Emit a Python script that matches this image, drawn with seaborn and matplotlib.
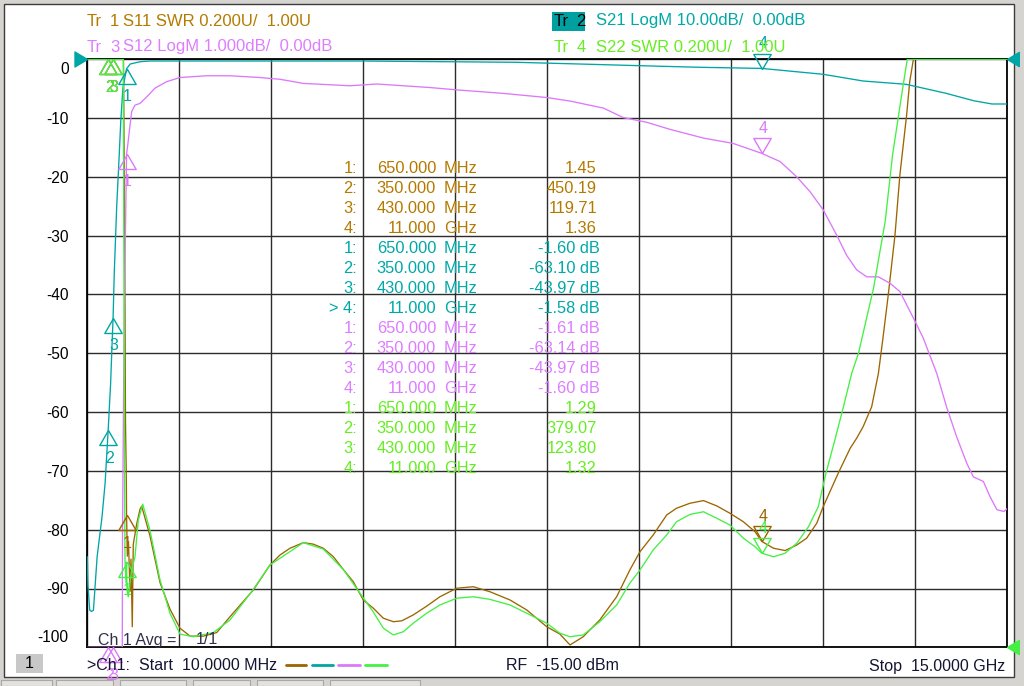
import numpy as np
import pandas as pd
import matplotlib
matplotlib.use("Agg")
import matplotlib.pyplot as plt
import seaborn as sns
from matplotlib.patches import Rectangle
from matplotlib.lines import Line2D
from matplotlib.transforms import ScaledTranslation

# ---- trace data (frequency in GHz) ----
# Tr2 S21 LogM, dB
s21_f = [0.01, 0.02, 0.05, 0.08, 0.11, 0.17, 0.25, 0.30, 0.35, 0.39, 0.41, 0.43,
         0.45, 0.49, 0.53, 0.555, 0.59, 0.65, 0.71, 0.87, 1.03, 4.5, 7.0, 8.2,
         9.2, 10.0, 11.0, 12.0, 12.65, 13.35, 14.0, 14.45, 14.75, 15.0]
s21_db = [-84.6, -89.4, -93.7, -93.9, -93.7, -84.6, -77.8, -72.1, -63.1, -55.1, -49.4, -44.0,
          -36.1, -24.8, -16.3, -10.6, -4.9, -1.6, -0.8, -0.41, -0.29, -0.29, -0.51, -0.85,
          -1.14, -1.36, -1.55, -2.55, -3.69, -4.25, -5.78, -7.04, -7.6, -7.6]

# Tr3 S12 LogM, dB
s12_f = [0.01, 0.35, 0.43, 0.58, 0.584, 0.60, 0.616, 0.632, 0.65, 0.67, 0.694, 0.733,
         0.787, 0.869, 0.978, 1.113, 1.304, 1.52, 1.955, 2.335, 2.824, 3.15, 3.53, 4.29,
         4.725, 5.59, 6.03, 6.79, 7.495, 7.875, 8.42, 8.74, 9.12, 9.50, 10.05, 10.53,
         11.0, 11.30, 11.57, 11.785, 12.0, 12.22, 12.38, 12.545, 12.71, 12.90, 13.09,
         13.25, 13.47, 13.63, 13.85, 14.01, 14.175, 14.34, 14.445, 14.61, 14.72, 14.83,
         14.945, 15.0]
s12_db = [-90.0, -63.14, -43.97, -10.5, -8.09, -5.79, -4.09, -2.90, -1.61, -1.45, -1.23, -0.89,
          -0.78, -0.75, -0.64, -0.49, -0.38, -0.31, -0.28, -0.28, -0.31, -0.34, -0.41, -0.45,
          -0.42, -0.48, -0.52, -0.58, -0.65, -0.71, -0.83, -0.99, -1.07, -1.19, -1.34, -1.43,
          -1.60, -1.74, -2.00, -2.25, -2.56, -2.99, -3.33, -3.58, -3.70, -3.70, -3.81,
          -3.95, -4.40, -4.74, -5.34, -5.91, -6.42, -6.87, -7.10, -7.18, -7.44, -7.66,
          -7.69, -7.64]

# Tr1 S11 SWR
s11_f = [0.01, 0.35, 0.43, 0.60, 0.613, 0.624, 0.632, 0.645, 0.65, 0.662, 0.681, 0.706,
         0.722, 0.743, 0.759, 0.815, 0.869, 0.896, 1.03, 1.195, 1.357, 1.52, 1.685, 1.90,
         2.118, 2.335, 2.715, 2.987, 3.15, 3.313, 3.53, 3.69, 3.855, 4.02, 4.18, 4.344,
         4.507, 4.67, 4.833, 4.996, 5.133, 5.32, 5.54, 5.756, 6.03, 6.30, 6.57, 6.897,
         7.17, 7.495, 7.71, 7.875, 8.09, 8.36, 8.635, 8.85, 9.015, 9.23, 9.45, 9.61,
         9.83, 10.05, 10.265, 10.48, 10.70, 10.89, 11.0, 11.19, 11.38, 11.57, 11.73,
         11.895, 12.0, 12.245, 12.44, 12.545, 12.65, 12.79, 12.90, 12.97, 13.06, 13.17,
         13.25, 13.36, 13.41, 13.47, 14.0, 15.0]
s11_swr = [400.0, 450.19, 119.71, 3.0, 2.59, 2.18, 1.77, 1.59, 1.45, 1.31, 1.36, 1.19,
           1.30, 1.07, 1.35, 1.42, 1.47, 1.48, 1.38, 1.22, 1.13, 1.065, 1.038, 1.038,
           1.050, 1.104, 1.195, 1.28, 1.314, 1.337, 1.356, 1.351, 1.337, 1.308, 1.265, 1.223,
           1.161, 1.133, 1.099, 1.087, 1.090, 1.110, 1.140, 1.172, 1.201, 1.206, 1.189, 1.161,
           1.127, 1.070, 1.045, 1.008, 1.036, 1.093, 1.172, 1.263, 1.325, 1.382, 1.45, 1.473,
           1.490, 1.499, 1.481, 1.456, 1.427, 1.393, 1.36, 1.337, 1.329, 1.348, 1.371,
           1.422, 1.478, 1.592, 1.677, 1.711, 1.750, 1.818, 1.932, 2.045, 2.198, 2.402,
           2.607, 2.811, 2.924, 3.0, 4.0, 5.0]

# Tr4 S22 SWR
s22_f = [0.01, 0.35, 0.43, 0.597, 0.613, 0.624, 0.641, 0.65, 0.657, 0.678, 0.706, 0.733,
         0.787, 0.841, 0.913, 1.03, 1.195, 1.357, 1.52, 1.737, 2.063, 2.335, 2.715, 2.987,
         3.53, 3.855, 4.18, 4.507, 4.67, 4.833, 4.996, 5.16, 5.32, 5.54, 5.756, 6.03,
         6.30, 6.57, 6.897, 7.17, 7.495, 7.71, 7.875, 8.09, 8.36, 8.635, 8.85, 9.015,
         9.23, 9.45, 9.61, 9.83, 10.05, 10.265, 10.48, 10.70, 10.89, 11.0, 11.19, 11.38,
         11.57, 11.76, 11.92, 12.045, 12.19, 12.33, 12.465, 12.575, 12.82, 13.01, 13.13,
         13.295, 13.37, 14.0, 15.0]
s22_swr = [350.0, 379.07, 123.80, 3.0, 1.783, 1.297, 1.219, 1.29, 1.195, 1.172, 1.219, 1.263,
           1.308, 1.433, 1.487, 1.399, 1.229, 1.116, 1.045, 1.036, 1.050, 1.093, 1.197, 1.28,
           1.356, 1.334, 1.265, 1.168, 1.120, 1.065, 1.042, 1.053, 1.082, 1.116, 1.144, 1.167,
           1.172, 1.163, 1.144, 1.116, 1.082, 1.048, 1.036, 1.042, 1.087, 1.144, 1.218, 1.263,
           1.331, 1.382, 1.427, 1.452, 1.461, 1.439, 1.416, 1.371, 1.342, 1.32, 1.308, 1.320,
           1.354, 1.41, 1.478, 1.592, 1.705, 1.818, 1.932, 2.0, 2.221, 2.448, 2.674,
           2.901, 3.0, 4.0, 5.0]

# ---- marker readouts ----
mk_freq = [0.65, 0.35, 0.43, 11.0]
mk_freq_txt = ["650.000", "350.000", "430.000", "11.000"]
mk_unit = ["MHz", "MHz", "MHz", "GHz"]
s11_mk = [1.45, 450.19, 119.71, 1.36]
s21_mk = [-1.60, -63.10, -43.97, -1.58]
s12_mk = [-1.61, -63.14, -43.97, -1.60]
s22_mk = [1.29, 379.07, 123.80, 1.32]

yticks = list(range(0, -101, -10))

C_S11, C_S21, C_S12, C_S22 = "#9c6500", "#00a5a5", "#dc78fa", "#44f044"
T_S11, T_S21, T_S12, T_S22 = "#b47a00", "#00a8a8", "#dd7dff", "#66ee22"
BG = "#d6d4d0"
INK = "#141432"


def swr_div(v):
    return np.clip(-100 + (np.asarray(v, float) - 1.0) / 0.2 * 10, -100, 0)


def s12_div(v):
    return np.clip(np.asarray(v, float) / 1.0 * 10, -100, 0)


def s21_div(v):
    return np.clip(np.asarray(v, float) / 10.0 * 10, -100, 0)


traces = [
    ("S11", s11_f, swr_div(s11_swr), C_S11, s11_mk, swr_div),
    ("S21", s21_f, s21_div(s21_db), C_S21, s21_mk, s21_div),
    ("S12", s12_f, s12_div(s12_db), C_S12, s12_mk, s12_div),
    ("S22", s22_f, swr_div(s22_swr), C_S22, s22_mk, swr_div),
]

df = pd.concat([pd.DataFrame({"freq": f, "y": y, "trace": n}) for n, f, y, _, _, _ in traces],
               ignore_index=True)

sns.set_style("white")
plt.rcParams["font.family"] = ["Liberation Sans", "DejaVu Sans"]

W, H = 1024, 686
fig = plt.figure(figsize=(W / 100, H / 100), dpi=100, facecolor=BG)


def px(x, y):
    return x / W, 1 - y / H


# window frame
fig.patches.append(Rectangle(px(4, 677), 1010 / W, 673 / H, transform=fig.transFigure,
                             facecolor="white", edgecolor="#3c3c3c", lw=1.0, zorder=-2))
# bottom tabs
for x0, x1 in [(1, 52), (56, 113), (120, 186), (193, 250), (257, 323), (330, 420)]:
    fig.patches.append(Rectangle(px(x0, 686), (x1 - x0) / W, 6 / H, transform=fig.transFigure,
                                 facecolor="#e4e2de", edgecolor="#a8a8a8", lw=0.8, zorder=-2))

ax = fig.add_axes([87.3 / W, 1 - 647.3 / H, 920 / W, 588 / H])
ax.set_facecolor("white")

sns.lineplot(data=df, x="freq", y="y", hue="trace", hue_order=["S11", "S21", "S12", "S22"],
             palette={n: c for n, _, _, c, _, _ in traces}, estimator=None, sort=False,
             legend=False, linewidth=0.95, zorder=3, ax=ax)

ax.set_xlim(0.01, 15.0)
ax.set_ylim(-100, 0)
ax.set_xticks(np.linspace(0.01, 15.0, 11))
ax.set_xticklabels([])
ax.set_yticks(yticks)
ax.set_yticklabels([str(t) for t in yticks])
ax.tick_params(length=0, pad=13.5, labelsize=11.2, labelcolor="black")
for lab in ax.get_yticklabels():
    if lab.get_text() == "0":
        lab.set_va("top")
        lab.set_transform(lab.get_transform() + ScaledTranslation(0, -3 / 100, fig.dpi_scale_trans))
    elif lab.get_text() == "-100":
        lab.set_va("bottom")
        lab.set_transform(lab.get_transform() + ScaledTranslation(0, 2 / 100, fig.dpi_scale_trans))
ax.grid(True, color="#2c2c2c", lw=1.0)
ax.set_axisbelow(True)
ax.set_xlabel("")
ax.set_ylabel("")
for sp in ax.spines.values():
    sp.set_color("black")
    sp.set_linewidth(1.3)
    sp.set_zorder(2.2)

# reference position arrows
ax.plot([0.01], [0], marker=[(0, 0), (-1, 0.6), (-1, -0.6), (0, 0)], ms=18, color=C_S21,
        clip_on=False, zorder=6)
ax.plot([15.0], [0], marker=[(0, 0), (1, 0.6), (1, -0.6), (0, 0)], ms=17, color=C_S21,
        clip_on=False, zorder=6)
ax.plot([15.0], [-100], marker=[(0, 0), (1, 0.6), (1, -0.6), (0, 0)], ms=17, color=C_S22,
        clip_on=False, zorder=6)

# markers: 1-3 as up triangles below the point, 4 (active) as down triangle above
up = [(0, 0), (-0.58, -1), (0.58, -1), (0, 0)]
dn = [(0, 0), (-0.58, 1), (0.58, 1), (0, 0)]
for name, f, y, col, mk, conv in traces:
    ys = conv(mk)
    for i, (mf, my) in enumerate(zip(mk_freq, ys)):
        shape = dn if i == 3 else up
        ax.plot([mf], [my], marker=shape, ms=21.6, mfc="none", mec=col, mew=1.0,
                linestyle="none", clip_on=False, zorder=7)
        dy = 25 if i == 3 else -28
        ax.annotate(str(i + 1), (mf, my), xytext=(1, dy), textcoords="offset pixels",
                    ha="center", va="center", color=col, fontsize=11.5,
                    annotation_clip=False, zorder=7)

# header
HF = 12
fig.text(*px(87, 21), "Tr", color=T_S11, fontsize=HF, va="center")
fig.text(*px(110, 21), "1", color=T_S11, fontsize=HF, va="center")
fig.text(*px(123, 21), "S11 SWR 0.200U/  1.00U", color=T_S11, fontsize=HF, va="center")
fig.text(*px(87, 47), "Tr", color=T_S12, fontsize=HF, va="center")
fig.text(*px(110, 47), "3", color=T_S12, fontsize=HF, va="center")
fig.text(*px(123, 47), "S12 LogM 1.000dB/  0.00dB", color=T_S12, fontsize=HF, va="center")
fig.patches.append(Rectangle(px(552, 31), 33 / W, 19.5 / H, transform=fig.transFigure,
                             facecolor="#00a0a0", edgecolor="none"))
fig.text(*px(553.5, 21), "Tr", color="black", fontsize=HF, va="center")
fig.text(*px(576.5, 21), "2", color="black", fontsize=HF, va="center")
fig.text(*px(596, 21), "S21 LogM 10.00dB/  0.00dB", color=T_S21, fontsize=HF, va="center")
fig.text(*px(553.5, 47), "Tr", color=T_S22, fontsize=HF, va="center")
fig.text(*px(576.5, 47), "4", color=T_S22, fontsize=HF, va="center")
fig.text(*px(596, 47), "S22 SWR 0.200U/  1.00U", color=T_S22, fontsize=HF, va="center")

# marker table
TF = 11.8
rows = []
for col, mk, kind in [(T_S11, s11_mk, "swr"), (T_S21, s21_mk, "db"),
                      (T_S12, s12_mk, "db"), (T_S22, s22_mk, "swr")]:
    for i in range(4):
        val = f"{mk[i]:.2f}" if kind == "swr" else f"{mk[i]:.2f} dB"
        idx = f"{i + 1}:"
        if col == T_S21 and i == 3:
            idx = "> " + idx
        rows.append((idx, mk_freq_txt[i], mk_unit[i], val, col))
for r, (idx, ftxt, unit, val, col) in enumerate(rows):
    yy = 168.3 + 20 * r
    vx = 600 if val.endswith("dB") else 597
    fig.text(*px(357, yy), idx, color=col, fontsize=TF, ha="right", va="center")
    fig.text(*px(436, yy), ftxt, color=col, fontsize=TF, ha="right", va="center")
    fig.text(*px(444, yy), unit, color=col, fontsize=TF, ha="left", va="center")
    fig.text(*px(vx, yy), val, color=col, fontsize=TF, ha="right", va="center")

# footer
fig.text(*px(98, 640), "Ch 1 Avg =", color="#303048", fontsize=11.5, va="center")
fig.text(*px(196, 640), "1/1", color="#303048", fontsize=11.5, va="center")
fig.patches.append(Rectangle(px(16, 673), 27 / W, 19.5 / H, transform=fig.transFigure,
                             facecolor="#c8c8c8", edgecolor="none"))
fig.text(*px(29.5, 663), "1", color="black", fontsize=11.5, ha="center", va="center")
fig.text(*px(87, 666), ">Ch1:  Start  10.0000 MHz", color=INK, fontsize=11.5, va="center")
for (x0, x1), c in zip([(286, 306), (312, 333), (338, 360), (365, 387)],
                       [C_S11, C_S21, C_S12, C_S22]):
    fig.lines.append(Line2D([x0 / W, x1 / W], [1 - 665 / H] * 2, transform=fig.transFigure,
                            color=c, lw=2.0))
fig.text(*px(506, 666), "RF  -15.00 dBm", color=INK, fontsize=11.5, va="center")
fig.text(*px(1005, 666), "Stop  15.0000 GHz", color=INK, fontsize=11.5, ha="right", va="center")

fig.savefig("out.png", dpi=100, facecolor=BG)
